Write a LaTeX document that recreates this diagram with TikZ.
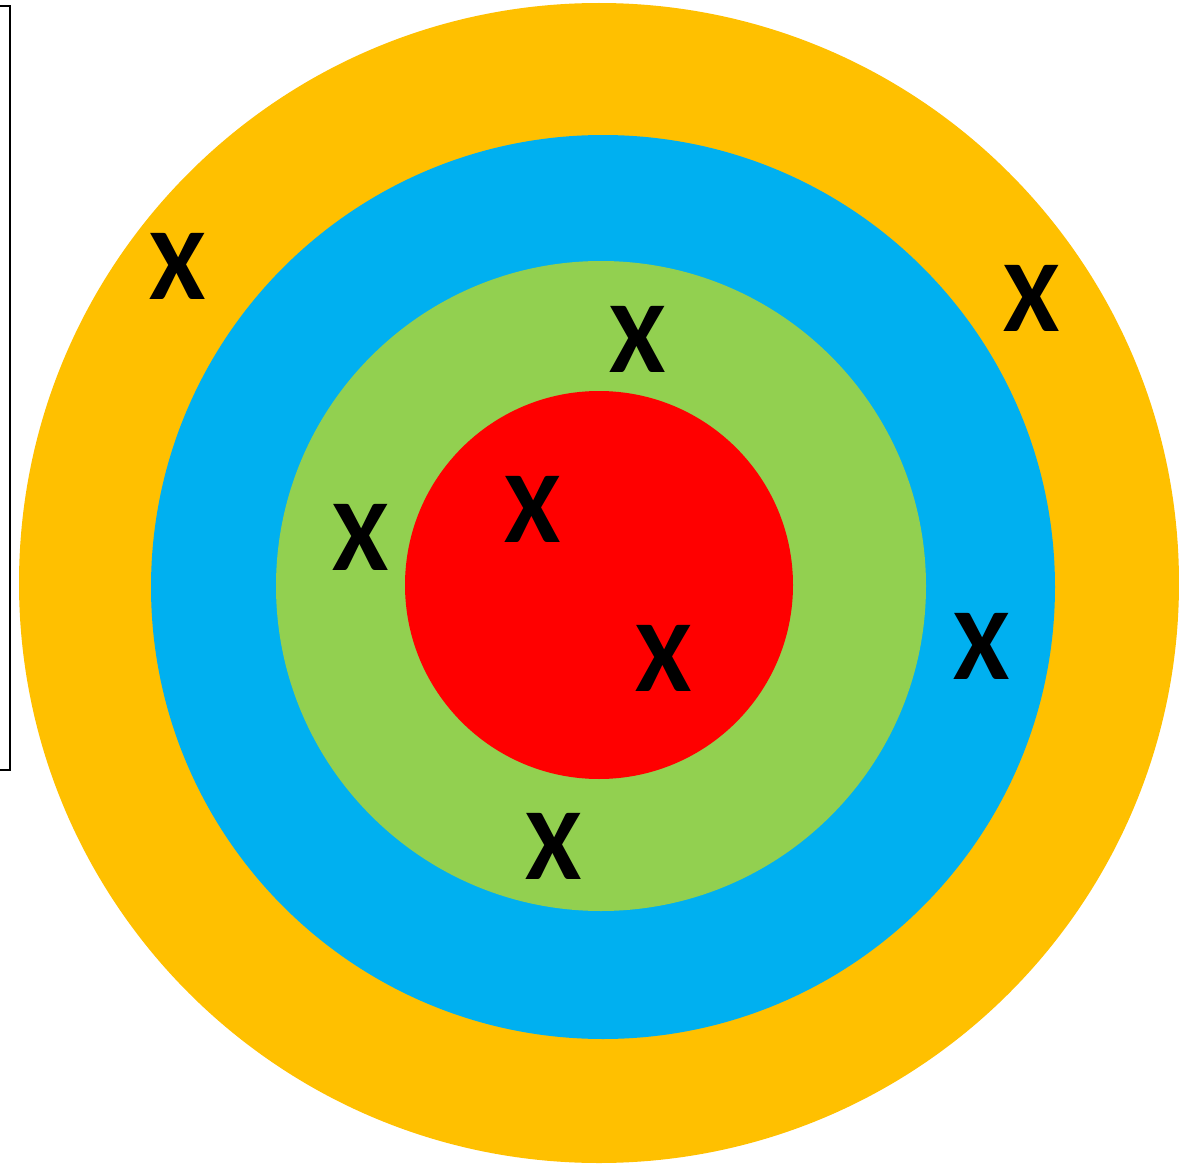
\documentclass[tikz,border=0pt]{standalone}
\usepackage{fontspec}
\newfontfamily\xfont{Carlito}[BoldFont={Carlito Bold}]
\definecolor{ring1}{HTML}{FFC000}
\definecolor{ring2}{HTML}{00B0F0}
\definecolor{ring3}{HTML}{92D050}
\definecolor{ring4}{HTML}{FF0000}
\begin{document}
\begin{tikzpicture}[x=1pt,y=-1pt,
  xmark/.style={font=\xfont\bfseries\fontsize{102}{102}\selectfont, text=black, inner sep=0pt, anchor=center},
  framebox/.style={draw=black, line width=2.5pt}]
\useasboundingbox (0,0) rectangle (1179,1164);
\clip (0,0) rectangle (1179,1164);
\fill[white] (0,0) rectangle (1179,1164);
\fill[ring1] (599,583) circle (580);
\fill[ring2] (603,587) circle (452);
\fill[ring3] (601,586) circle (325);
\fill[ring4] (599,585) circle (194);
\draw[framebox] (-5,6) -- (10,6) -- (10,770) -- (-5,770);
\node[xmark] (x1) at (178,266) {X};
\node[xmark] (x2) at (1032,298) {X};
\node[xmark] (x3) at (638,339) {X};
\node[xmark] (x4) at (361,537) {X};
\node[xmark] (x5) at (533,509) {X};
\node[xmark] (x6) at (664,658) {X};
\node[xmark] (x7) at (982,646) {X};
\node[xmark] (x8) at (554,846) {X};
\end{tikzpicture}
\end{document}
